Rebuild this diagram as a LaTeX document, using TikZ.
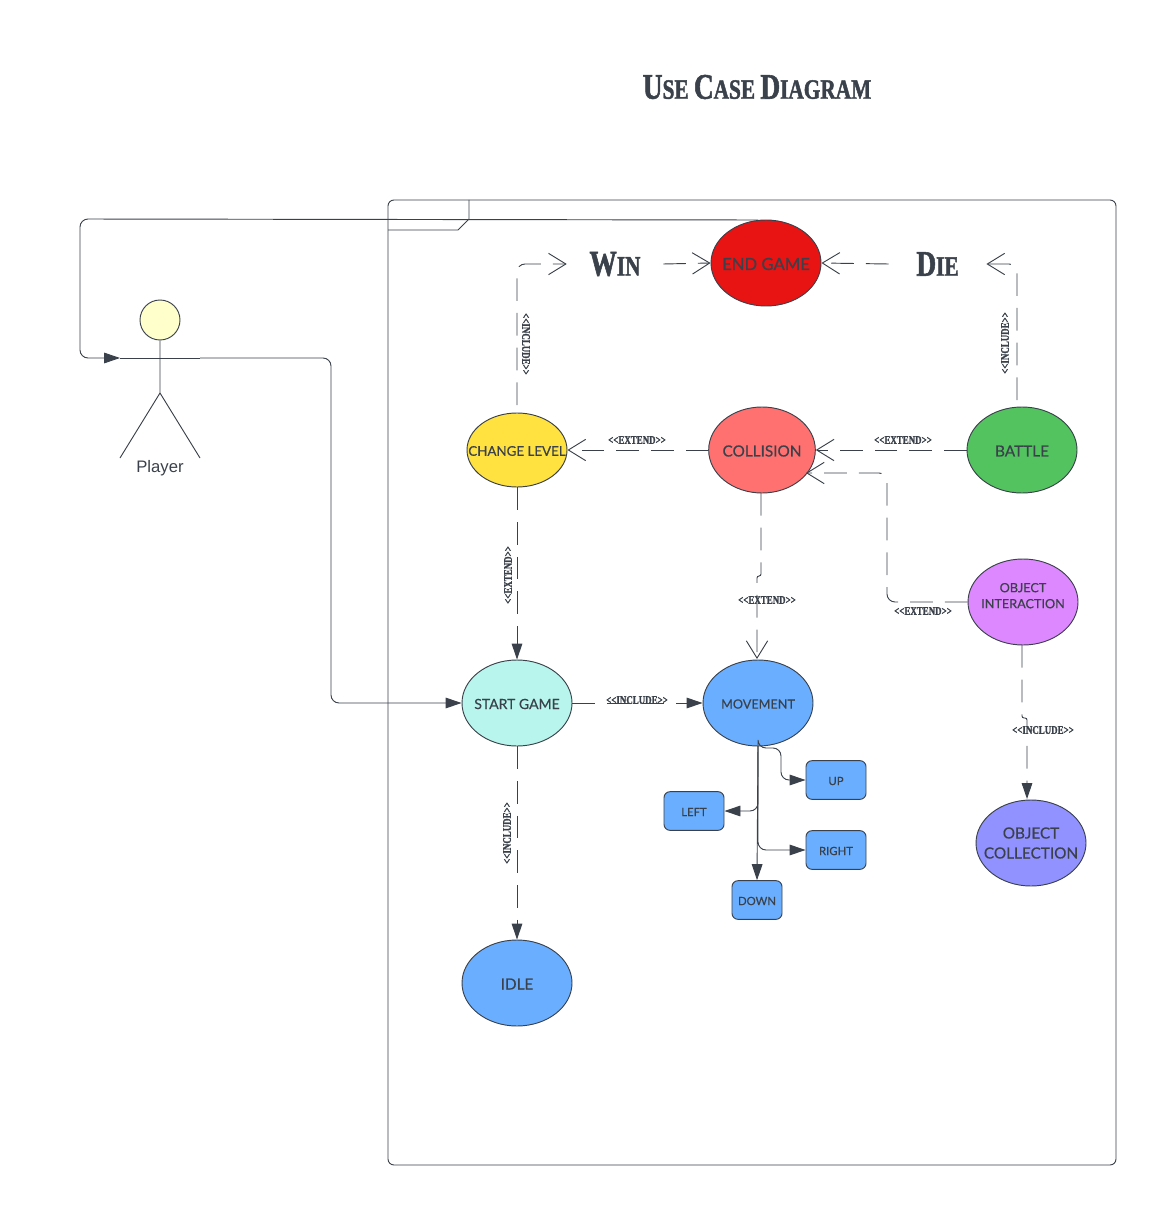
\documentclass[tikz,border=0pt]{standalone}
\usepackage{fontspec}
\usetikzlibrary{arrows.meta,shapes.geometric}
\setmainfont{Liberation Sans}
\newfontfamily\slab{Liberation Serif}[FakeStretch=0.76,FakeBold=1.5]
\newfontfamily\hand{Lato}[FakeBold=0.4]
\definecolor{ink}{HTML}{3A414A}
\definecolor{cred}{HTML}{E81313}
\definecolor{cyel}{HTML}{FFE140}
\definecolor{ccor}{HTML}{FF7070}
\definecolor{cgrn}{HTML}{52C35F}
\definecolor{clil}{HTML}{DD88FF}
\definecolor{ccya}{HTML}{B8F5EC}
\definecolor{cblu}{HTML}{6AAEFF}
\definecolor{cpur}{HTML}{9191FF}
\definecolor{chead}{HTML}{FFFFCC}
\tikzset{
  x=0.75pt,y=-0.75pt,
  line/.style={draw=ink,line width=.7pt,rounded corners=6pt},
  dashline/.style={line,dash pattern=on 17pt off 9pt},
  opentip/.style={-{Straight Barb[length=13pt,width=16pt,line width=.7pt]}},
  solidtip/.style={-{Triangle[length=12pt,width=8pt]}},
  usecase/.style={ellipse,draw=ink,line width=.7pt,minimum width=82.5pt,minimum height=64.5pt,inner sep=-30pt,text=ink,font=\hand\fontsize{11}{13}\selectfont,align=center},
  smallbox/.style={rectangle,rounded corners=4.5pt,draw=ink,line width=.7pt,fill=cblu,minimum width=45pt,minimum height=29pt,inner sep=0pt,text=ink,font=\hand\fontsize{8.5}{10}\selectfont},
  tag/.style={text=ink,inner sep=0pt,font=\slab\bfseries\fontsize{8.8}{10}\selectfont},
  heading/.style={text=ink,inner sep=0pt,font=\slab\bfseries},
}
\newcommand{\capbig}{\fontsize{27}{27}\selectfont}
\newcommand{\capsmall}{\fontsize{21}{21}\selectfont}
\newcommand{\lowered}[1]{\raisebox{0pt}[\dimexpr\height+1.5pt\relax]{#1}}
\begin{document}
\begin{tikzpicture}
\useasboundingbox (0,0) rectangle (1166,1205);
% frame
\draw[draw=ink,line width=.7pt,rounded corners=4.5pt] (388,200) rectangle (1116,1165);
\draw[draw=ink,line width=.7pt] (388,230) -- (458,230) -- (469,219) -- (469,200);
% title
\node[heading] (title) at (757,87) {\capbig U\capsmall SE \capbig C\capsmall ASE \capbig D\capsmall IAGRAM};
% use cases
\node[usecase,fill=cred] (endg) at (766,263) {\fontsize{12.5}{15}\selectfont\lowered{END GAME}};
\node[usecase,fill=cyel,minimum width=75pt,minimum height=55.5pt] (chg) at (517,450) {\fontsize{10}{13}\selectfont\lowered{CHANGE LEVEL}};
\node[usecase,fill=ccor,minimum width=80pt] (coll) at (762,450) {\fontsize{11.5}{13}\selectfont\lowered{COLLISION}};
\node[usecase,fill=cgrn] (battle) at (1022,450) {\fontsize{11.5}{13}\selectfont\lowered{BATTLE}};
\node[usecase,fill=clil] (objint) at (1023,602) {\raisebox{0pt}[\height][\dimexpr\depth+7.5pt\relax]{\fontsize{9.5}{12}\selectfont\begin{tabular}{@{}c@{}}OBJECT\\INTERACTION\end{tabular}}};
\node[usecase,fill=ccya] (start) at (517,703) {\fontsize{10.5}{13}\selectfont\lowered{START GAME}};
\node[usecase,fill=cblu] (move) at (758,703) {\fontsize{9.5}{13}\selectfont\lowered{MOVEMENT}};
\node[usecase,fill=cblu] (idle) at (517,983) {\fontsize{11.5}{13}\selectfont\lowered{IDLE}};
\node[usecase,fill=cpur] (objcol) at (1031,843) {\fontsize{11.5}{14}\selectfont OBJECT\\[2pt]\fontsize{11.5}{14}\selectfont COLLECTION};
% boxes
\node[smallbox] (up) at (836,780) {\lowered{UP}};
\node[smallbox] (left) at (694,811) {\lowered{LEFT}};
\node[smallbox] (right) at (836,850) {\lowered{RIGHT}};
\node[smallbox,minimum width=37.5pt] (down) at (757,900) {\lowered{DOWN}};
% win/die
\node[heading,minimum width=72pt,minimum height=24pt] (win) at (615,264) {\capbig W\capsmall IN};
\node[heading,minimum width=73pt,minimum height=24pt] (die) at (937.5,264) {\capbig D\capsmall IE};
% actor
\node[circle,draw=ink,line width=.7pt,fill=chead,minimum size=30pt,inner sep=0pt] (head) at (160,320) {};
\coordinate (hip) at (160,393);
\coordinate (armL) at (120,358);
\coordinate (armR) at (200,358);
\coordinate (footL) at (120,458);
\coordinate (footR) at (200,458);
\draw[draw=ink,line width=.7pt] (head.south) -- (hip) -- (footL);
\draw[draw=ink,line width=.7pt] (hip) -- (footR);
\draw[draw=ink,line width=.7pt] (armL) -- (armR);
\node[text=ink,inner sep=0pt,font=\fontsize{12.5}{14}\selectfont] (player) at (160,468) {Player};
% solid connectors
\coordinate (endtop) at (758,220);
\coordinate (loopTop) at (80,219);
\coordinate (loopBot) at (80,358);
\draw[line,solidtip] (endtop) -- (loopTop) -- (loopBot) -- (armL);
\coordinate (playerBend) at (331,358);
\coordinate (playerDown) at (331,703);
\draw[line,solidtip] (armR) -- (playerBend) -- (playerDown) -- (start.west);
\coordinate (mv) at (758,746);
\coordinate (upA) at (781,748);
\coordinate (upB) at (781,780);
\coordinate (lfA) at (758,811);
\coordinate (rtA) at (758,850);
\draw[line,solidtip] (mv) -- (758,748) -- (upA) -- (upB) -- (up.west);
\draw[line,solidtip] (mv) -- (lfA) -- (left.east);
\draw[line,solidtip] (mv) -- (rtA) -- (right.west);
\draw[line,solidtip] (mv) -- (down.north);
% dashed connectors
\coordinate (chgTop) at (517,405);
\coordinate (winCorner) at (517,264);
\draw[dashline,opentip] (chgTop) -- (winCorner) -- (win.west);
\draw[dashline,opentip] (win.east) -- (endg.west);
\draw[dashline,opentip] (die.west) -- (endg.east);
\coordinate (batTop) at (1017,400);
\coordinate (dieCorner) at (1017,264);
\draw[dashline,opentip] (batTop) -- (dieCorner) -- (die.east);
\draw[dashline,opentip] (coll.west) -- (chg.east);
\draw[dashline,opentip] (battle.west) -- (coll.east);
\coordinate (oiA) at (887,602);
\coordinate (oiB) at (887,473);
\coordinate (collIn) at (806,473);
\draw[dashline,opentip] (objint.west) -- (oiA) -- (oiB) -- (collIn);
\coordinate (cmA) at (761,493);
\coordinate (cmB) at (761,576);
\coordinate (cmC) at (757,576);
\coordinate (cmD) at (757,659);
\draw[dashline,opentip,rounded corners=1.5pt] (cmA) -- (cmB) -- (cmC) -- (cmD);
\draw[dashline,solidtip] (chg.south) -- (start.north);
\draw[dashline,solidtip] (start.east) -- (move.west);
\draw[dashline,solidtip] (start.south) -- (idle.north);
\coordinate (ocA) at (1022,645);
\coordinate (ocB) at (1022,718);
\coordinate (ocC) at (1027,718);
\coordinate (ocD) at (1027,799);
\draw[dashline,solidtip,rounded corners=1.5pt] (ocA) -- (ocB) -- (ocC) -- (ocD);
% tags
\node[tag,rotate=-90] (t1) at (526,344) {<{}<INCLUDE>{}>};
\node[tag,rotate=90] (t2) at (1005,343) {<{}<INCLUDE>{}>};
\node[tag] (t3) at (637,440) {<{}<EXTEND>{}>};
\node[tag] (t4) at (903,440) {<{}<EXTEND>{}>};
\node[tag,rotate=90] (t5) at (508,575) {<{}<EXTEND>{}>};
\node[tag] (t6) at (767,600) {<{}<EXTEND>{}>};
\node[tag] (t7) at (923,611) {<{}<EXTEND>{}>};
\node[tag] (t8) at (637,700) {<{}<INCLUDE>{}>};
\node[tag,rotate=90] (t9) at (507,833) {<{}<INCLUDE>{}>};
\node[tag] (t10) at (1043,730) {<{}<INCLUDE>{}>};
\end{tikzpicture}
\end{document}
